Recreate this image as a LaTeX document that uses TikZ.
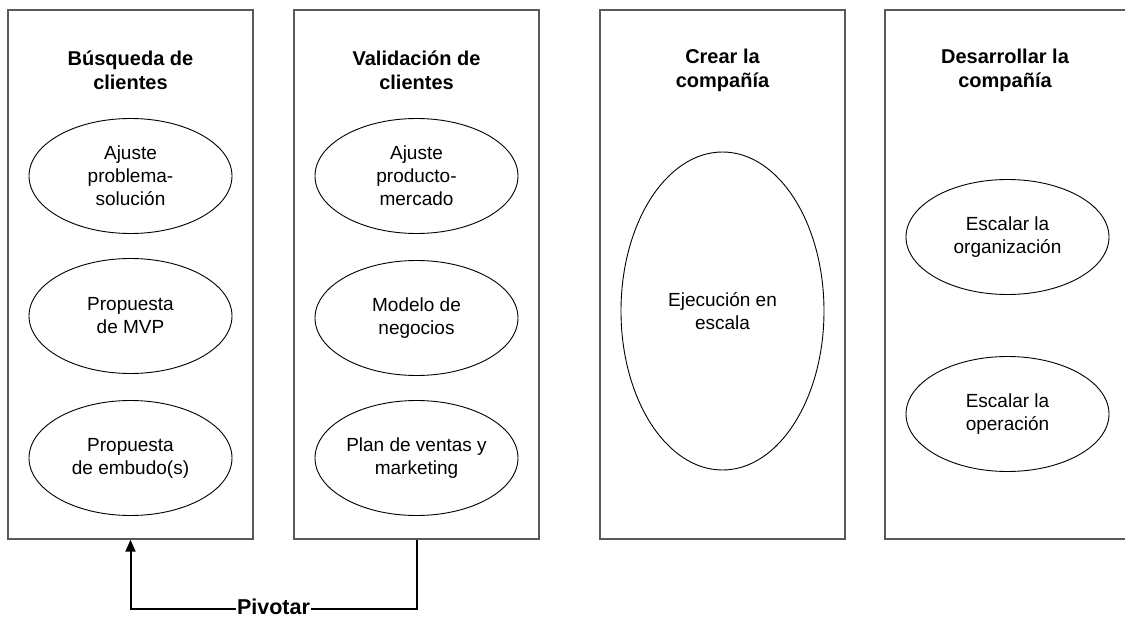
\documentclass[tikz,border=0pt]{standalone}
\usepackage{fontspec}
\setmainfont{Liberation Sans}
\usetikzlibrary{shapes.geometric,arrows.meta}
\begin{document}
\begin{tikzpicture}[x=1pt,y=-1pt,
  panel/.style={draw=black!65,line width=1.4pt,rectangle,minimum width=245pt,minimum height=529pt,inner sep=0pt},
  title/.style={align=center,font=\fontsize{20}{24}\selectfont\bfseries},
  oval/.style={draw=black,line width=0.9pt,ellipse,minimum width=203pt,minimum height=115pt,inner sep=0pt,align=center,font=\fontsize{19}{23}\selectfont},
  arr/.style={draw=black,line width=2pt,-{Triangle[length=12pt,width=10pt]}},
  lbl/.style={fill=white,inner sep=1pt,font=\fontsize{21.5}{26}\selectfont\bfseries}
]
\useasboundingbox (0,0) rectangle (1125,618);
\fill[white] (0,0) rectangle (1125,618);

% panels
\node[panel] (b1) at (130.5,274.5) {};
\node[panel] (b2) at (416.5,274.5) {};
\node[panel] (b3) at (722.5,274.5) {};
\node[panel] (b4) at (1007.5,274.5) {};

% titles
\node[title] (t1) at (130.5,70) {Búsqueda de\\clientes};
\node[title] (t2) at (416.5,70) {Validación de\\clientes};
\node[title] (t3) at (722.5,70) {Crear la\\compañía};
\node[title] (t4) at (1005,70) {Desarrollar la\\compañía};

% ovals panel 1
\node[oval] (e11) at (130.5,176) {Ajuste\\problema-\\solución};
\node[oval] (e12) at (130.5,316) {Propuesta\\de MVP};
\node[oval] (e13) at (130.5,458) {Propuesta\\de embudo(s)};

% ovals panel 2
\node[oval] (e21) at (416.5,176) {Ajuste\\producto-\\mercado};
\node[oval] (e22) at (416.5,318) {Modelo de\\negocios};
\node[oval] (e23) at (416.5,458) {Plan de ventas y\\marketing};

% oval panel 3
\node[oval,minimum height=318pt] (e31) at (722.5,311) {Ejecución en\\escala};

% ovals panel 4
\node[oval] (e41) at (1007.5,237) {Escalar la\\organización};
\node[oval] (e42) at (1007.5,414) {Escalar la\\operación};

% pivot connector
\coordinate (c1) at (416.5,609);
\draw[arr] (b2.south) -- (c1) -| node[lbl,pos=0.25,yshift=2.5pt] (pv) {Pivotar} (b1.south);
\end{tikzpicture}
\end{document}
